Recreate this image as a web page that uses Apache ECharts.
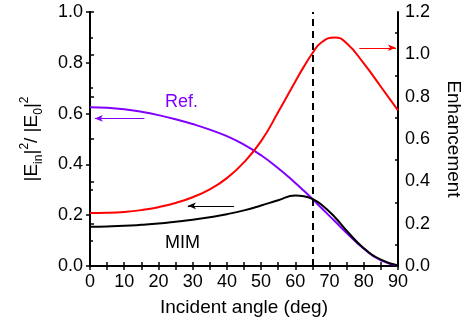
<!DOCTYPE html>
<html><head><meta charset="utf-8">
<script src="https://cdn.jsdelivr.net/npm/echarts@6/dist/echarts.min.js"></script>
<style>html,body{margin:0;padding:0;background:#fff}#c{width:471px;height:325px}</style>
</head><body><div id="c"></div>
<script>
var angles    = [0,5,10,15,20,25,30,35,40,45,50,55,60,62.5,65,67.5,71.5,75,80,85,90];
var refValues = [0.625,0.623,0.617,0.607,0.594,0.578,0.559,0.537,0.511,0.478,0.436,0.385,0.327,0.296,0.264,0.230,0.177,0.130,0.068,0.022,0.002];
var mimValues = [0.155,0.156,0.158,0.162,0.167,0.174,0.182,0.192,0.204,0.219,0.238,0.259,0.278,0.275,0.264,0.243,0.193,0.139,0.070,0.025,0.002];
var enhValues = [0.25,0.251,0.255,0.264,0.278,0.298,0.325,0.362,0.415,0.49,0.59,0.727,0.872,0.942,1.005,1.055,1.080,1.052,0.957,0.847,0.735];
var xTicks = [0,10,20,30,40,50,60,70,80,90];
var dashedAngle = 65;

function pairs(v){ return angles.map(function(a,i){return [a, v[i]];}); }
var F = 'Liberation Sans, Arial, sans-serif';
var chart = echarts.init(document.getElementById('c'));
var axLine = {show:true, lineStyle:{color:'#000', width:2}};
function xAx(pos, labels){
  return {type:'value', position:pos, min:xTicks[0], max:xTicks[xTicks.length-1], interval:10,
    axisLine:axLine, splitLine:{show:false},
    axisTick:{show:true, inside:true, length:4, lineStyle:{color:'#000', width:1.5}},
    minorTick:{show:true, splitNumber:2, length:4, lineStyle:{color:'#000', width:1.5}},
    axisLabel:{show:labels, color:'#000', fontFamily:F, fontSize:18, margin:7},
    name: labels ? 'Incident angle (deg)' : '', nameLocation:'middle', nameGap:32,
    nameTextStyle:{color:'#000', fontFamily:F, fontSize:19}};
}
function yAx(pos, max, labels, name, gap, rot){
  return {type:'value', position:pos, min:0, max:max, interval:0.2,
    axisLine:axLine, splitLine:{show:false},
    axisTick:{show:labels, inside:!labels, length:4, lineStyle:{color:'#000', width:1.5}},
    minorTick:{show:!labels, splitNumber:2, length:3, lineStyle:{color:'#000', width:1.5}},
    axisLabel:{show:labels, color:'#000', fontFamily:F, fontSize:18, margin:7,
      formatter:function(v){return v.toFixed(1);}},
    name:name, nameLocation:'middle', nameGap:gap, nameRotate:rot,
    nameTextStyle:{color:'#000', fontFamily:F, fontSize:19,
      rich:{
        b:{fontFamily:F, fontSize:19, color:'#000', lineHeight:26},
        sub:{fontFamily:F, fontSize:12, color:'#000', lineHeight:12, verticalAlign:'bottom'},
        sup:{fontFamily:F, fontSize:12, color:'#000', lineHeight:12, verticalAlign:'top'}
      }}};
}
function arrow(color, from, to){
  return {silent:true, symbol:['none','arrow'], symbolSize:[5,8], label:{show:false},
    lineStyle:{color:color, width:1, type:'solid'}, data:[[{coord:from},{coord:to}]]};
}
var option = {
  animation:false,
  grid:{left:90, right:69, top:12, bottom:59},
  xAxis:[xAx('bottom', true), xAx('top', false)],
  yAxis:[
    yAx('left', 1.0, true, '{b||E}{sub|in}{b||}{sup|2}{b|/ |E}{sub|0}{b||}{sup|2}', 45, 90),
    yAx('right', 1.2, true, 'Enhancement', 46, -90),
    yAx('left', 1.0, false, '', 0, 90),
    yAx('right', 1.2, false, '', 0, -90)
  ],
  series:[
    {type:'line', name:'Ref.', data:pairs(refValues), yAxisIndex:0, smooth:0.5, showSymbol:false,
      lineStyle:{color:'#8000ff', width:2}, markLine:arrow('#8000ff',[15.9,0.581],[1.4,0.581])},
    {type:'line', name:'MIM', data:pairs(mimValues), yAxisIndex:0, smooth:0.5, showSymbol:false,
      lineStyle:{color:'#000', width:2}, z:3, markLine:arrow('#000',[42.1,0.237],[28.6,0.237])},
    {type:'line', name:'Enhancement', data:pairs(enhValues), yAxisIndex:1, smooth:0.5, showSymbol:false,
      lineStyle:{color:'#ff0000', width:2}, markLine:arrow('#ff0000',[78.7,1.031],[89.4,1.031])},
    {type:'line', name:'dash', data:[], yAxisIndex:0,
      markLine:{silent:true, symbol:['none','none'], label:{show:false},
        lineStyle:{color:'#000', width:2, type:[7,5]},
        data:[[{coord:[dashedAngle,0]},{coord:[dashedAngle,1.0]}]]}}
  ],
  graphic:[
    {type:'text', left:165, top:93, style:{text:'Ref.', fill:'#8000ff', font:'18px '+F}},
    {type:'text', left:165, top:234, style:{text:'MIM', fill:'#000', font:'18px '+F}}
  ]
};
chart.setOption(option);
</script></body></html>
